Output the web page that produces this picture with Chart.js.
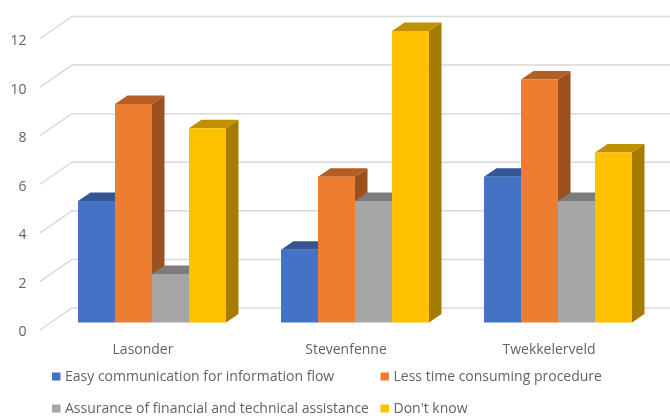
<!DOCTYPE html>
<html>
<head>
<meta charset="utf-8">
<title>Zones</title>
<script src="https://cdn.jsdelivr.net/npm/chart.js@4/dist/chart.umd.min.js"></script>
<style>
    body { margin: 0; background: #fff; }
    canvas { display: block; }
</style>
</head>
<body>
<canvas id="zones" width="670" height="416"></canvas>
<script>
const categories = ['Lasonder', 'Stevenfenne', 'Twekkelerveld'];
const seriesNames = [
    'Easy communication for information flow',
    'Less time consuming procedure',
    'Assurance of financial and technical assistance',
    "Don't know"
];
const easyCommunication = [5, 3, 6];
const lessTime = [9, 6, 10];
const assurance = [2, 5, 5];
const dontKnow = [8, 12, 7];
const tickValues = [0, 2, 4, 6, 8, 10, 12];

const frontColors = ['#4472C4', '#ED7D31', '#A5A5A5', '#FFC000'];
const topColors = ['#335593', '#B25E25', '#7C7C7C', '#BF9000'];
const sideColors = ['#2C4A80', '#9A511F', '#6B6B6B', '#A67C00'];

const TEXT_COLOR = '#636363';
const FONT_FAMILY = '"Open Sans", sans-serif';

// floor depth of the box and where the bars stand inside it
const WALL_DX = 32, WALL_DY = 22;
const WALL_SHIFT_Y = 2.5;
const BAR_SHIFT_X = 9, BAR_SHIFT_Y = 10;
const BAR_DX = 12.5, BAR_DY = 8.5;

function drawWalls(chart) {
    const ctx = chart.ctx;
    const scale = chart.scales.y;
    const left = chart.chartArea.left - 1.5;
    ctx.save();
    ctx.strokeStyle = '#DADADA';
    ctx.lineWidth = 1.5;
    tickValues.forEach(function (v) {
        const y = scale.getPixelForValue(v) - WALL_SHIFT_Y;
        ctx.beginPath();
        ctx.moveTo(left, y);
        ctx.lineTo(left + WALL_DX, y - WALL_DY);
        ctx.lineTo(chart.width, y - WALL_DY);
        ctx.stroke();
    });
    ctx.restore();
}

function drawFace(ctx, color, points) {
    ctx.fillStyle = color;
    ctx.beginPath();
    ctx.moveTo(points[0][0], points[0][1]);
    for (var i = 1; i < points.length; i++) {
        ctx.lineTo(points[i][0], points[i][1]);
    }
    ctx.closePath();
    ctx.fill();
}

// Left to right so every bar covers the side of its left neighbour
const boxBars = {
    id: 'boxBars',
    beforeDatasetsDraw(chart) {
        const ctx = chart.ctx;
        drawWalls(chart);
        ctx.save();
        ctx.translate(BAR_SHIFT_X, -BAR_SHIFT_Y);
        chart.data.datasets.forEach(function (dataset, i) {
            chart.getDatasetMeta(i).data.forEach(function (bar) {
                const p = bar.getProps(['x', 'y', 'base', 'width'], true);
                const l = p.x - p.width / 2;
                const r = p.x + p.width / 2;
                drawFace(ctx, sideColors[i], [
                    [r, p.y], [r + BAR_DX, p.y - BAR_DY],
                    [r + BAR_DX, p.base - BAR_DY], [r, p.base]
                ]);
                drawFace(ctx, topColors[i], [
                    [l, p.y], [l + BAR_DX, p.y - BAR_DY],
                    [r + BAR_DX, p.y - BAR_DY], [r, p.y]
                ]);
                bar.draw(ctx);
            });
        });
        ctx.restore();
        return false;
    }
};

// Two aligned columns, which the built in legend cannot lay out
const columnLegend = {
    id: 'columnLegend',
    afterDraw(chart) {
        const ctx = chart.ctx;
        const columns = [52, 380.5];
        const rows = [376.5, 408.5];
        ctx.save();
        ctx.font = '14px ' + FONT_FAMILY;
        ctx.textBaseline = 'middle';
        chart.data.datasets.forEach(function (dataset, i) {
            const x = columns[i % 2];
            const y = rows[Math.floor(i / 2)];
            ctx.fillStyle = frontColors[i];
            ctx.fillRect(x, y - 4, 8.5, 8);
            ctx.fillStyle = TEXT_COLOR;
            ctx.fillText(dataset.label, x + 13, y + 1);
        });
        ctx.restore();
    }
};

new Chart(document.getElementById('zones'), {
    type: 'bar',
    data: {
        labels: categories,
        datasets: [easyCommunication, lessTime, assurance, dontKnow].map(function (values, i) {
            return {
                label: seriesNames[i],
                data: values,
                backgroundColor: frontColors[i],
                borderWidth: 0,
                categoryPercentage: 0.729,
                barPercentage: 1
            };
        })
    },
    options: {
        responsive: false,
        animation: false,
        layout: { padding: { top: 41, right: 19.5, bottom: 0, left: 0 } },
        plugins: {
            legend: { display: false },
            tooltip: { enabled: false }
        },
        scales: {
            x: {
                grid: { display: false },
                border: { display: false },
                afterFit(scale) { scale.height = 83.5; },
                ticks: {
                    color: TEXT_COLOR,
                    padding: 1,
                    maxRotation: 0,
                    font: { family: FONT_FAMILY, size: 14 }
                }
            },
            y: {
                min: 0,
                max: 12,
                grid: { display: false },
                border: { display: false },
                afterFit(scale) { scale.width = 41.5; },
                ticks: {
                    stepSize: 2,
                    color: TEXT_COLOR,
                    padding: 7,
                    font: { family: FONT_FAMILY, size: 14 }
                }
            }
        }
    },
    plugins: [boxBars, columnLegend]
});
</script>
</body>
</html>
